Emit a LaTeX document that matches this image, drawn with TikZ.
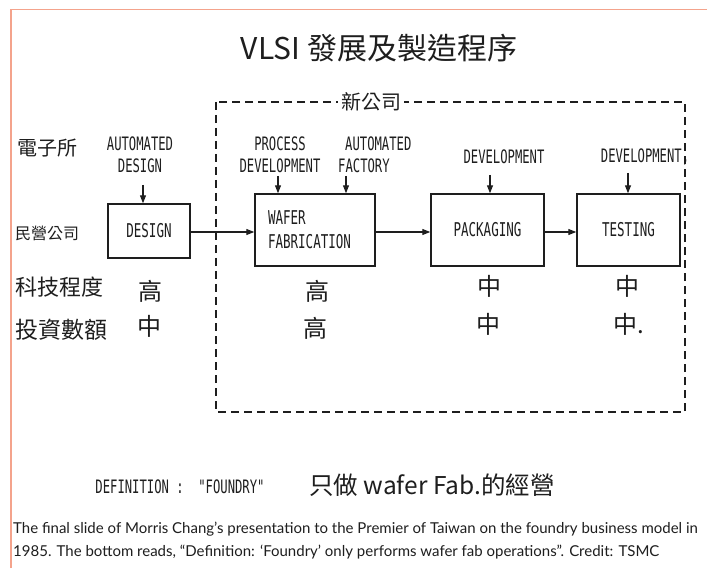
\documentclass[tikz,border=0pt]{standalone}
\usepackage{fontspec}
\setmainfont{Liberation Sans}
\newfontfamily\cjk{Noto Sans CJK TC}
\newfontfamily\tw[FakeStretch=0.66]{DejaVu Sans Mono}
\newfontfamily\capf{Lato}
\usetikzlibrary{arrows.meta}
\definecolor{frame}{HTML}{F4A38C}
\definecolor{ink}{HTML}{1E1E1E}
\tikzset{
  lbl/.style={font=\tw\fontsize{18.5}{22}\selectfont, align=center, inner sep=0pt, text=ink},
  hz/.style={font=\cjk\fontsize{#1}{#1}\selectfont, inner sep=0pt, text=ink},
  hz/.default=22,
  procbox/.style={draw=ink, line width=1.4pt, inner sep=0pt, font=\tw\fontsize{19}{24}\selectfont, text=ink},
  arr/.style={draw=ink, line width=1.2pt, -{Triangle[length=8pt,width=6pt]}},
  dashbox/.style={draw=ink, line width=1.6pt, dash pattern=on 8pt off 5pt},
  border/.style={draw=frame, line width=1.5pt}
}
\begin{document}
\begin{tikzpicture}[x=1pt,y=-1pt]
\useasboundingbox (0,0) rectangle (707,580);
\fill[white] (0,0) rectangle (707,580);
\draw[border] (11,568) -- (11,9.5) -- (707,9.5);

% title
\node[hz=30] (title) at (379,48) {VLSI 發展及製造程序};

% dashed company box
\draw[dashbox] (216,102) rectangle (685,412);
\node[hz=20, fill=white, inner xsep=3pt] (newco) at (371,102) {新公司};

% left row labels
\node[hz=20, anchor=west] (l1) at (17,148) {電子所};
\node[hz=16, anchor=west] (l2) at (15,233) {民營公司};
\node[hz=22, anchor=west] (l3) at (15,287) {科技程度};
\node[hz=23, anchor=west] (l4) at (15,330) {投資數額};

% top labels
\node[lbl] (ad) at (140,154.5) {AUTOMATED\\DESIGN};
\node[lbl] (pd) at (280,154.5) {PROCESS\\DEVELOPMENT};
\node[lbl, align=left, anchor=west] (af) at (338,154.5) {\hspace*{7pt}AUTOMATED\\FACTORY};
\node[lbl] (dev1) at (504,157) {DEVELOPMENT};
\node[lbl] (dev2) at (645,157) {DEVELOPMENT,};

% process boxes
\node[procbox, minimum width=82pt, minimum height=54pt] (design) at (149,231) {DESIGN};
\node[procbox, minimum width=120pt, minimum height=72pt, align=left, text width=94pt, inner xsep=13pt] (wafer) at (315,230) {WAFER\\FABRICATION};
\node[procbox, minimum width=113pt, minimum height=72pt] (pack) at (487.5,230) {PACKAGING};
\node[procbox, minimum width=103pt, minimum height=72pt] (test) at (628.5,230) {TESTING};

% vertical input arrows
\coordinate (a1) at (143,185);
\coordinate (a2) at (278,176);
\coordinate (a3) at (346,176);
\coordinate (a4) at (490,175);
\coordinate (a5) at (628,173);
\draw[arr] (a1) -- (a1 |- design.north);
\draw[arr] (a2) -- (a2 |- wafer.north);
\draw[arr] (a3) -- (a3 |- wafer.north);
\draw[arr] (a4) -- (a4 |- pack.north);
\draw[arr] (a5) -- (a5 |- test.north);

% flow arrows
\draw[arr] (design.east |- 0,232) -- (wafer.west |- 0,232);
\draw[arr] (wafer.east |- 0,232) -- (pack.west |- 0,232);
\draw[arr] (pack.east |- 0,232) -- (test.west |- 0,232);

% ratings
\node[hz=24] (t1) at (150,291) {高};
\node[hz=24] (i1) at (149,326) {中};
\node[hz=24] (t2) at (317,291) {高};
\node[hz=24] (i2) at (315,328) {高};
\node[hz=24] (t3) at (489,286) {中};
\node[hz=24] (i3) at (488,324) {中};
\node[hz=24] (t4) at (627,286) {中};
\node[hz=24, anchor=west] (i4) at (613,324) {中.};

% definition
\node[lbl, font=\tw\fontsize{18.5}{22}\selectfont] (def) at (180,487) {DEFINITION :\ \ "FOUNDRY"};
\node[hz=24.5] (defzh) at (432,485) {只做 wafer Fab.的經營};

% caption
\node[anchor=west, align=left, inner sep=0pt, font=\capf\fontsize{15}{23}\selectfont, text=ink] (cap) at (13,540.5)
  {The final slide of Morris Chang’s presentation to the Premier of Taiwan on the foundry business model in\\
   1985. The bottom reads, “Definition: ‘Foundry’ only performs wafer fab operations”. Credit: TSMC};
\end{tikzpicture}
\end{document}
